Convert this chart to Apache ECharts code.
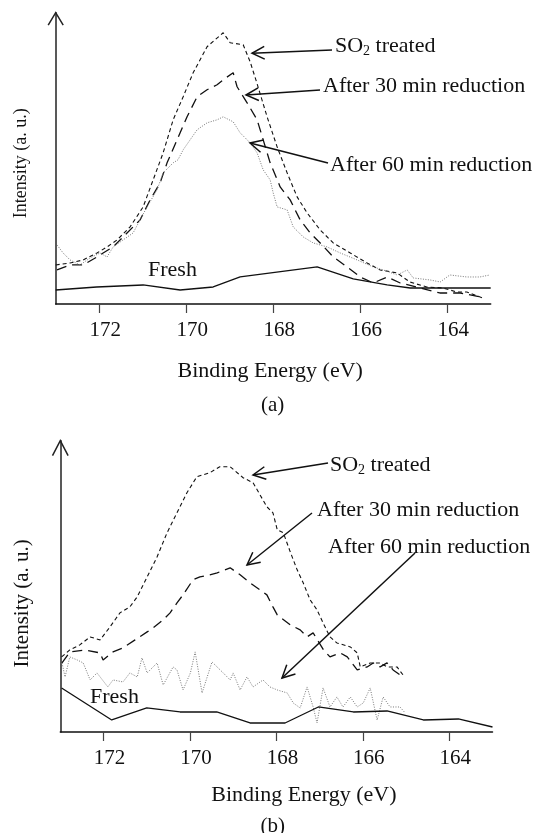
<!DOCTYPE html>
<html>
<head>
<meta charset="utf-8">
<script src="https://cdn.jsdelivr.net/npm/echarts@6/dist/echarts.min.js"></script>
<style>
html,body{margin:0;padding:0;background:#fff;}
#c{width:538px;height:833px;}
</style>
</head>
<body>
<div id="c"></div>
<script>
// ---------- data ----------
const energyTicks = [164, 166, 168, 170, 172];

// Panel (a)
const aSO2E = [173.0,172.67,172.37,172.05,171.82,171.59,171.29,170.99,170.76,170.53,170.30,170.07,169.84,169.52,169.15,168.99,168.69,168.53,168.37,168.14,167.91,167.68,167.45,167.22,166.92,166.62,166.23,165.84,165.54,165.15,164.86,164.47,164.10,163.78,163.55,163.18];
const aSO2I = [39,41,44,51,57,64,77,97,124,151,184,207,231,257,271,261,259,242,220,187,157,131,107,91,74,61,51,41,34,31,22,17,16,12,12,6];

const a30E = [172.97,172.67,172.37,172.05,171.91,171.68,171.36,171.06,170.83,170.60,170.44,170.21,169.98,169.75,169.52,169.29,169.15,168.92,168.83,168.60,168.37,168.23,168.07,167.84,167.61,167.38,167.15,166.92,166.62,166.30,166.00,165.70,165.38,165.08,164.70,164.17,163.70,163.24];
const a30I = [34,39,39,47,51,57,71,84,104,121,141,164,187,207,214,219,224,231,217,201,184,164,141,117,104,84,71,61,47,37,27,21,27,21,17,11,11,7];

const a60E = [172.97,172.83,172.67,172.44,172.21,171.98,171.82,171.68,171.45,171.22,171.06,170.90,170.67,170.53,170.30,170.19,170.07,169.91,169.75,169.52,169.29,169.15,168.92,168.76,168.53,168.37,168.23,168.07,168.00,167.91,167.68,167.54,167.31,167.08,166.76,166.46,166.07,165.70,165.47,165.15,164.92,164.78,164.39,164.16,163.94,163.55,163.25,163.02];
const a60I = [59,51,44,39,46,51,47,57,64,71,84,97,114,131,141,144,154,164,174,181,184,187,182,171,161,151,134,124,111,97,94,77,67,61,57,51,44,37,34,29,34,26,24,22,29,27,27,29];

const aFreshE = [173.0,172.06,170.99,170.14,169.38,168.76,166.99,166.16,165.38,164.85,163.0];
const aFreshI = [14,17,19,14,17,27,37,25,19,16,16];

// Panel (b)
const bSO2E = [172.97,172.78,172.55,172.31,172.08,171.85,171.62,171.39,171.22,170.99,170.76,170.53,170.30,170.07,169.84,169.54,169.31,169.07,168.77,168.54,168.38,168.22,168.08,167.98,167.84,167.68,167.52,167.38,167.22,167.06,166.92,166.76,166.60,166.29,166.13,166.06,165.83,165.60,165.44,165.21,165.07];
const bSO2I = [75,82,87,95,92,105,119,125,135,155,175,199,219,239,255,259,265,265,254,249,237,225,219,202,199,180,162,149,132,122,109,95,89,85,79,65,69,69,65,65,57];

const b30E = [172.96,172.78,172.43,172.08,172.01,171.78,171.55,171.27,170.99,170.85,170.62,170.46,170.30,170.16,169.93,169.77,169.54,169.37,169.07,168.84,168.61,168.38,168.22,168.08,167.98,167.68,167.45,167.29,167.15,166.91,166.76,166.52,166.36,166.13,165.90,165.76,165.60,165.44,165.30,165.07];
const b30I = [69,80,82,79,72,80,84,92,100,104,112,119,129,137,152,155,157,159,164,157,149,142,137,125,117,107,102,95,99,82,75,79,75,62,65,69,65,69,62,55];

const b60E = [172.96,172.89,172.78,172.61,172.47,172.31,172.15,171.90,171.78,171.55,171.39,171.22,171.11,170.99,170.76,170.62,170.39,170.30,170.16,169.99,169.88,169.72,169.49,169.23,169.07,169.00,168.84,168.68,168.54,168.31,168.15,167.98,167.75,167.61,167.45,167.29,167.15,167.06,166.92,166.76,166.60,166.46,166.29,166.13,165.99,165.83,165.67,165.53,165.37,165.14,165.02];
const b60I = [69,55,75,72,69,52,59,45,52,50,59,55,74,59,69,47,65,62,42,59,80,39,70,59,52,59,42,55,45,52,45,42,39,29,24,45,25,9,44,25,35,25,35,25,29,44,12,35,25,25,19];

const bFreshE = [172.97,171.81,171.00,170.23,169.38,168.61,167.80,167.03,166.22,165.44,164.60,163.79,163.0];
const bFreshI = [44,12,24,20,20,9,9,25,20,21,12,13,5];

const seriesNames = ['SO2 treated', 'After 30 min reduction', 'After 60 min reduction', 'Fresh'];
const xTitle = 'Binding Energy (eV)';
const yTitle = 'Intensity (a. u.)';

// ---------- helpers ----------
const FONT = '"Liberation Serif", "Times New Roman", serif';
const zip = (xs, ys) => xs.map((x, i) => [x, ys[i]]);

const styles = {
  so2:   { color: '#111', width: 1.1, type: [4, 3] },
  r30:   { color: '#111', width: 1.3, type: [10, 6] },
  r60:   { color: '#777', width: 1.0, type: [1, 1.5] },
  fresh: { color: '#111', width: 1.3, type: 'solid' }
};

function line(name, idx, xs, ys, st) {
  return {
    name, type: 'line', xAxisIndex: idx, yAxisIndex: idx,
    data: zip(xs, ys), symbol: 'none', smooth: false, animation: false,
    lineStyle: { color: st.color, width: st.width, type: st.type },
    itemStyle: { color: st.color }, z: 3
  };
}

function xAxis(idx, namePad) {
  return {
    gridIndex: idx, type: 'value', min: 163, max: 173, inverse: true,
    axisLine: { show: true, onZero: false, lineStyle: { color: '#111', width: 1.5 } },
    axisTick: { show: true, inside: false, length: 9, customValues: energyTicks, lineStyle: { color: '#444', width: 1.2 } },
    axisLabel: { show: true, customValues: energyTicks, margin: 16, fontFamily: FONT, fontSize: 21, color: '#111', padding: [0, 0, 0, 12] },
    splitLine: { show: false },
    name: xTitle, nameLocation: 'middle', nameGap: idx === 0 ? 56 : 52,
    nameTextStyle: { fontFamily: FONT, fontSize: 22, color: '#111', padding: namePad }
  };
}

function yAxis(idx, size, gap, namePad) {
  return {
    gridIndex: idx, type: 'value', min: 0, max: 291,
    axisLine: { show: true, onZero: false, lineStyle: { color: '#222', width: 1.5 } },
    axisTick: { show: false }, axisLabel: { show: false }, splitLine: { show: false },
    name: yTitle, nameLocation: 'middle', nameGap: gap,
    nameTextStyle: { fontFamily: FONT, fontSize: size, color: '#111', padding: namePad }
  };
}

function arrow(x1, y1, x2, y2) {
  const ang = Math.atan2(y1 - y2, x1 - x2), L = 14, a = 0.47;
  const p1 = [x2 + L * Math.cos(ang + a), y2 + L * Math.sin(ang + a)];
  const p2 = [x2 + L * Math.cos(ang - a), y2 + L * Math.sin(ang - a)];
  return [
    { type: 'line', shape: { x1, y1, x2, y2 }, style: { stroke: '#111', lineWidth: 1.5 }, z: 10 },
    { type: 'polyline', shape: { points: [p1, [x2, y2], p2] }, style: { stroke: '#111', lineWidth: 1.5, fill: null }, z: 10 }
  ];
}
function label(text, x, y, size, rich, align) {
  const st = { text, fill: '#111', font: (size || 22) + 'px ' + FONT, align: align || 'left', verticalAlign: 'middle', textAlign: align || 'left', textVerticalAlign: 'middle' };
  if (rich) st.rich = rich;
  return { type: 'text', x, y, style: st, z: 10 };
}
const subRich = { s: { fontSize: 14, fontFamily: FONT, padding: [10, 0, 0, 0], fill: '#111' } };
function yArrow(x, y, w, h) {
  return { type: 'polyline', shape: { points: [[x - w, y + h], [x, y], [x + w, y + h]] }, style: { stroke: '#222', lineWidth: 1.5, fill: null }, z: 10 };
}

const graphic = [
  yArrow(55.7, 12.7, 7.5, 12.5),
  yArrow(60.3, 440.7, 7.8, 15),
  // panel (a) annotations
  ...arrow(332, 50, 252, 53.3),
  label('SO{s|2} treated', 335, 46.7, 22, subRich),
  ...arrow(320, 90, 246, 95),
  label(seriesNames[1], 323, 86.7, 22),
  ...arrow(328, 163, 250, 143),
  label(seriesNames[2], 330, 165, 22),
  label(seriesNames[3], 148, 270, 22),
  label('(a)', 272.7, 405, 21, null, 'center'),
  // panel (b) annotations
  ...arrow(328, 463, 253, 475),
  label('SO{s|2} treated', 330, 465, 22, subRich),
  ...arrow(312, 513, 247, 565),
  label(seriesNames[1], 317, 510, 22),
  ...arrow(415, 553, 282, 678),
  label(seriesNames[2], 328, 547, 22),
  label(seriesNames[3], 90, 697, 22),
  label('(b)', 272.7, 826, 21, null, 'center')
];

const option = {
  backgroundColor: '#fff',
  animation: false,
  grid: [
    { left: 55.7, top: 12.7, width: 435, height: 291.3, containLabel: false },
    { left: 60.3, top: 440.7, width: 432.2, height: 291.3, containLabel: false }
  ],
  xAxis: [xAxis(0, [0, 6, 0, 0]), xAxis(1, [0, 0, 0, 55])],
  yAxis: [yAxis(0, 18, 25, [0, 10, 0, 0]), yAxis(1, 21, 27, [0, 34, 0, 0])],
  series: [
    line(seriesNames[0], 0, aSO2E, aSO2I, styles.so2),
    line(seriesNames[1], 0, a30E, a30I, styles.r30),
    line(seriesNames[2], 0, a60E, a60I, styles.r60),
    line(seriesNames[3], 0, aFreshE, aFreshI, styles.fresh),
    line(seriesNames[0], 1, bSO2E, bSO2I, styles.so2),
    line(seriesNames[1], 1, b30E, b30I, styles.r30),
    line(seriesNames[2], 1, b60E, b60I, styles.r60),
    line(seriesNames[3], 1, bFreshE, bFreshI, styles.fresh)
  ],
  graphic
};

const chart = echarts.init(document.getElementById('c'), null, { renderer: 'canvas' });
chart.setOption(option);
</script>
</body>
</html>
